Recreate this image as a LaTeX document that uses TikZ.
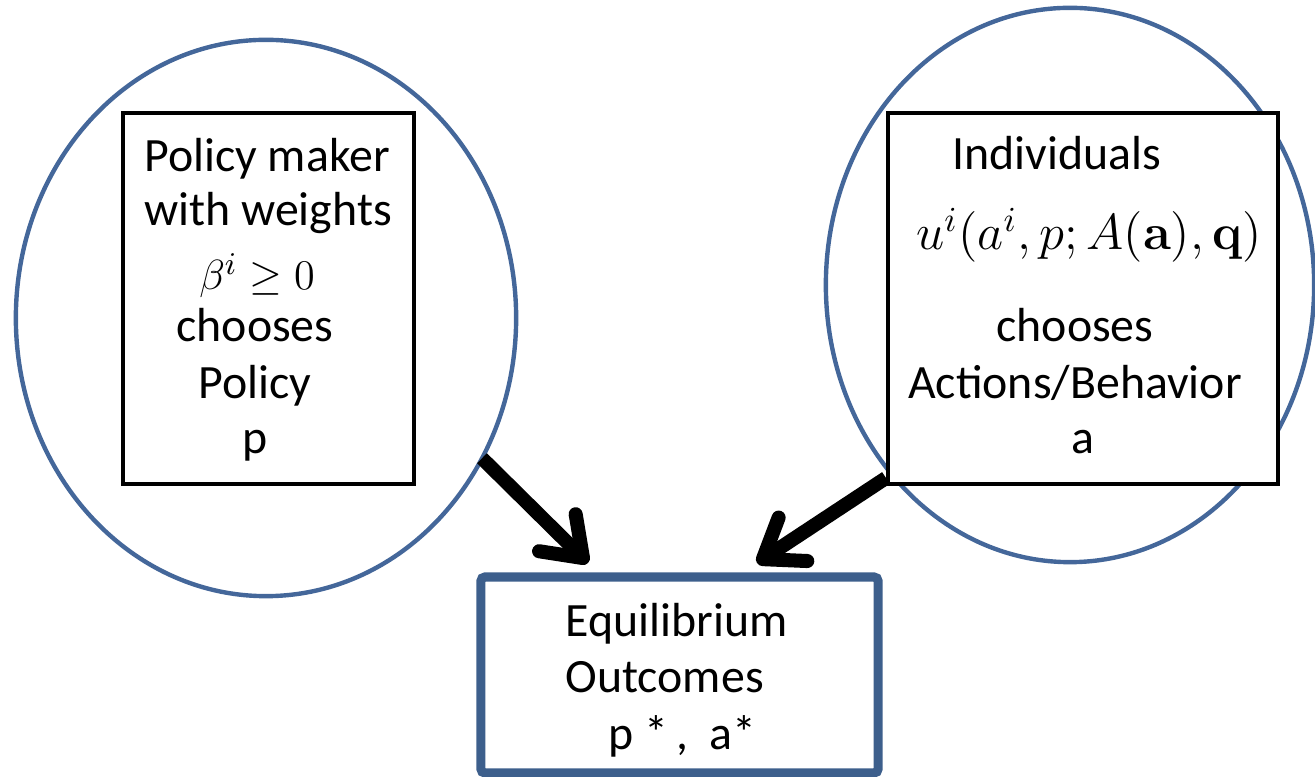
\documentclass[tikz,border=0pt]{standalone}
\usepackage[no-math]{fontspec}
\setmainfont{Carlito}
\usetikzlibrary{shapes.geometric,arrows.meta}
\definecolor{ringblue}{HTML}{44679A}
\definecolor{outblue}{HTML}{3D5F8C}
\tikzset{
  ring/.style={ellipse, draw=ringblue, line width=1.25pt, inner sep=0pt, outer sep=0pt},
  agentbox/.style={rectangle, draw=black, line width=1.1pt, fill=white, inner sep=0pt, outer sep=0pt},
  outbox/.style={rectangle, draw=outblue, line width=2.6pt, rounded corners=1.2pt, fill=white, inner sep=0pt, outer sep=0pt},
  lbl/.style={anchor=base, inner sep=0pt, font=\fontsize{13.6pt}{16pt}\selectfont},
  flow/.style={line width=4pt, -{Straight Barb[length=0.36cm, width=0.52cm, round]}},
}
\begin{document}
\begin{tikzpicture}[x=0.01cm, y=-0.01cm]
\useasboundingbox (0,0) rectangle (1315,777);

% the two actors
\node[ring, minimum width=5.00cm, minimum height=5.56cm] (lell) at (266,318) {};
\node[ring, minimum width=4.88cm, minimum height=5.54cm] (rell) at (1070,285) {};
\node[agentbox, minimum width=2.91cm, minimum height=3.71cm] (lbox) at (268.5,298.5) {};
\node[agentbox, minimum width=3.90cm, minimum height=3.71cm] (rbox) at (1083,298.5) {};

% the outcome
\node[outbox, minimum width=3.97cm, minimum height=1.96cm] (obox) at (679.5,675) {};

% policy maker text
\node[lbl] (t1) at (267,172) {Policy maker};
\node[lbl] (t2) at (268,226) {with weights};
\node[lbl, font=\fontsize{13pt}{15pt}\selectfont] (t3) at (257,290) {$\beta^{i}\geq 0$};
\node[lbl] (t4) at (255,342) {chooses};
\node[lbl] (t5) at (255,399) {Policy};
\node[lbl] (t6) at (255,454) {p};

% individuals text
\node[lbl] (s1) at (1057,170) {Individuals};
\node[lbl, font=\fontsize{14.4pt}{17pt}\selectfont] (s2) at (1089,250) {$u^{i}(a^{i},p;A(\mathbf{a}),\mathbf{q})$};
\node[lbl] (s3) at (1075,342) {chooses};
\node[lbl] (s4) at (1075,399) {Actions/Behavior};
\node[lbl] (s5) at (1083,454) {a};

% outcome text
\node[lbl, anchor=base west] (o1) at (565,637) {Equilibrium};
\node[lbl, anchor=base west] (o2) at (565,693) {Outcomes};
\node[lbl, anchor=base west] (o3) at (608,750) {p *\,,\ \ a*};

% arrows into the outcome
\coordinate (ltip) at (588,563);
\coordinate (rtip) at (757,563);
\coordinate (rstart) at (886,478);
\draw[flow] (lell.-33) -- (ltip);
\draw[flow] (rstart) -- (rtip);
\end{tikzpicture}
\end{document}
